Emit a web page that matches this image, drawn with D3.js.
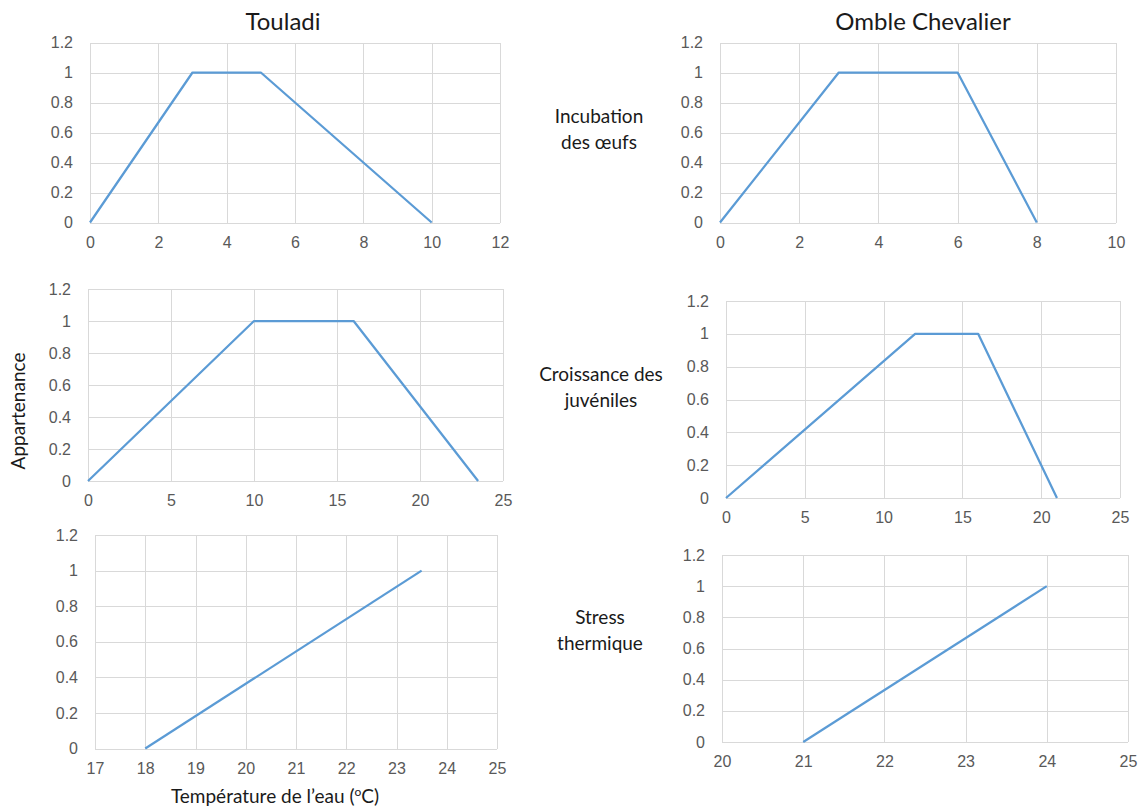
<!DOCTYPE html>
<html lang="fr">
<head>
<meta charset="utf-8">
<title>Fonctions d'appartenance – Touladi et Omble Chevalier</title>
<script src="https://cdn.jsdelivr.net/npm/d3@7"></script>
<style>
  html, body { margin: 0; padding: 0; background: #ffffff; }
  svg { display: block; font-family: Lato, "Open Sans", sans-serif; }
  .tick text { fill: #595959; font-size: 16px; }
  .tick line { stroke: #d9d9d9; stroke-width: 1; shape-rendering: crispEdges; }
  .domain { display: none; }
  .curve { fill: none; stroke: #5b9bd5; stroke-width: 2.25; stroke-linejoin: round; }
  .title { fill: #1a1a1a; font-size: 24px; text-anchor: middle; }
  .rowlabel { fill: #1a1a1a; font-size: 19px; text-anchor: middle; }
  .axistitle { fill: #1a1a1a; font-size: 19px; text-anchor: middle; }
</style>
</head>
<body>
<svg id="chart" width="1141" height="809"></svg>
<script>
// Species (columns) and life stages (rows)
const species = ["Touladi", "Omble Chevalier"];
const stageLines = [["Incubation", "des œufs"], ["Croissance des", "juvéniles"], ["Stress", "thermique"]];
const yAxisTitle = "Appartenance";

// Membership ticks shared by every panel
const membershipTicks = [0, 0.2, 0.4, 0.6, 0.8, 1, 1.2];

// Touladi – incubation des œufs
const touladiIncubationTemp = [0, 3, 5, 10];
const touladiIncubationValue = [0, 1, 1, 0];
const touladiIncubationTicks = [0, 2, 4, 6, 8, 10, 12];

// Omble Chevalier – incubation des œufs
const ombleIncubationTemp = [0, 3, 6, 8];
const ombleIncubationValue = [0, 1, 1, 0];
const ombleIncubationTicks = [0, 2, 4, 6, 8, 10];

// Touladi – croissance des juvéniles
const touladiCroissanceTemp = [0, 10, 16, 23.5];
const touladiCroissanceValue = [0, 1, 1, 0];
const touladiCroissanceTicks = [0, 5, 10, 15, 20, 25];

// Omble Chevalier – croissance des juvéniles
const ombleCroissanceTemp = [0, 12, 16, 21];
const ombleCroissanceValue = [0, 1, 1, 0];
const ombleCroissanceTicks = [0, 5, 10, 15, 20, 25];

// Touladi – stress thermique
const touladiStressTemp = [18, 23.5];
const touladiStressValue = [0, 1];
const touladiStressTicks = [17, 18, 19, 20, 21, 22, 23, 24, 25];

// Omble Chevalier – stress thermique
const ombleStressTemp = [21, 24];
const ombleStressValue = [0, 1];
const ombleStressTicks = [20, 21, 22, 23, 24, 25];

// Plot frames (layout only): left, top, right, bottom in pixels
const panels = [
  { temp: touladiIncubationTemp, value: touladiIncubationValue, ticks: touladiIncubationTicks, box: [90, 42.5, 500, 222.5] },
  { temp: ombleIncubationTemp,   value: ombleIncubationValue,   ticks: ombleIncubationTicks,   box: [720, 42.5, 1116, 222.5] },
  { temp: touladiCroissanceTemp, value: touladiCroissanceValue, ticks: touladiCroissanceTicks, box: [88, 289, 503, 481] },
  { temp: ombleCroissanceTemp,   value: ombleCroissanceValue,   ticks: ombleCroissanceTicks,   box: [726, 301, 1120, 498] },
  { temp: touladiStressTemp,     value: touladiStressValue,     ticks: touladiStressTicks,     box: [95, 535, 497, 748.5] },
  { temp: ombleStressTemp,       value: ombleStressValue,       ticks: ombleStressTicks,       box: [722, 555, 1128, 742] }
];

const svg = d3.select("#chart");
const fmt = d => String(+d.toFixed(1));

panels.forEach(p => {
  const [l, t, r, b] = p.box;
  const w = r - l, h = b - t;
  const x = d3.scaleLinear().domain(d3.extent(p.ticks)).range([0, w]);
  const y = d3.scaleLinear().domain([0, 1.2]).range([h, 0]);
  const g = svg.append("g").attr("transform", `translate(${l},${t})`);

  // horizontal gridlines + membership labels
  g.append("g")
    .call(d3.axisLeft(y).tickValues(membershipTicks).tickFormat(fmt)
      .tickSizeInner(-w).tickSizeOuter(0).tickPadding(17));

  // vertical gridlines + temperature labels
  g.append("g")
    .attr("transform", `translate(0,${h})`)
    .call(d3.axisBottom(x).tickValues(p.ticks).tickFormat(fmt)
      .tickSizeInner(-h).tickSizeOuter(0).tickPadding(14));

  const pts = p.temp.map((v, i) => [v, p.value[i]]);
  g.append("path")
    .attr("class", "curve")
    .attr("d", d3.line().x(d => x(d[0])).y(d => y(d[1]))(pts));
});

// Column titles
svg.append("text").attr("class", "title").attr("x", 283).attr("y", 30).text(species[0]);
svg.append("text").attr("class", "title").attr("x", 923).attr("y", 30).text(species[1]);

// Row labels between the two columns
const rowCentres = [[599, 130], [601, 388], [600, 631]];
stageLines.forEach((lines, i) => {
  const t = svg.append("text").attr("class", "rowlabel")
    .attr("x", rowCentres[i][0]).attr("y", rowCentres[i][1]);
  lines.forEach((s, j) => {
    t.append("tspan").attr("x", rowCentres[i][0])
      .attr("dy", j === 0 ? "-0.35em" : "1.35em").text(s);
  });
});

// Shared y-axis title
svg.append("text").attr("class", "axistitle")
  .attr("transform", "translate(25,411) rotate(-90)")
  .text(yAxisTitle);

// x-axis title under the last Touladi panel
const xt = svg.append("text").attr("class", "axistitle").attr("x", 275).attr("y", 803);
xt.append("tspan").text("Température de l’eau (");
xt.append("tspan").attr("font-size", "12px").attr("dy", "-7").text("o");
xt.append("tspan").attr("dy", "7").text("C)");
</script>
</body>
</html>
